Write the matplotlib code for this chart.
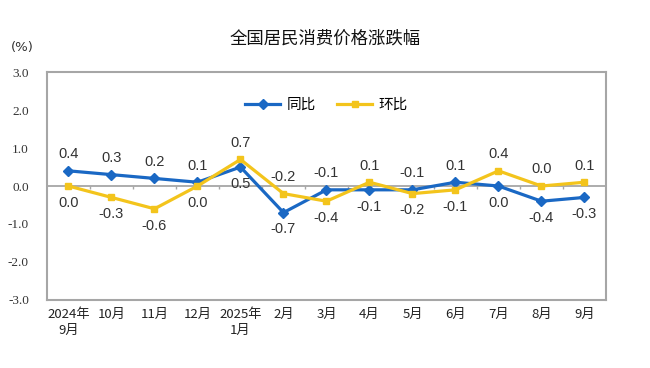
import numpy as np
import matplotlib.pyplot as plt

plt.rcParams['font.family'] = ['DejaVu Sans', 'Noto Sans CJK SC']

months = ['2024年\n9月', '10月', '11月', '12月', '2025年\n1月', '2月', '3月',
          '4月', '5月', '6月', '7月', '8月', '9月']
yoy = [0.4, 0.3, 0.2, 0.1, 0.5, -0.7, -0.1, -0.1, -0.1, 0.1, 0.0, -0.4, -0.3]   # 同比
mom = [0.0, -0.3, -0.6, 0.0, 0.7, -0.2, -0.4, 0.1, -0.2, -0.1, 0.4, 0.0, 0.1]  # 环比

blue = '#1A68C4'
yellow = '#F3C41C'
grey = '#A6A6A6'

fig = plt.figure(figsize=(6.5, 3.68), dpi=100)
ax = fig.add_axes([0.0723, 0.185, 0.8600, 0.619])

x = np.arange(len(months))
ax.plot(x, yoy, color=blue, lw=2.3, marker='D', ms=5, label='同比', zorder=3)
ax.plot(x, mom, color=yellow, lw=2.3, marker='s', ms=5, label='环比', zorder=4)

# 数据标签：较大的值在上，较小的在下
for i in x:
    if yoy[i] >= mom[i]:
        hi_v, lo_v = yoy[i], mom[i]
    else:
        hi_v, lo_v = mom[i], yoy[i]
    ax.annotate(f'{hi_v:.1f}', (i, hi_v), xytext=(0, 7), textcoords='offset points',
                ha='center', va='bottom', fontsize=10.5, color='#333333',
                fontfamily=['Liberation Sans', 'DejaVu Sans'])
    ax.annotate(f'{lo_v:.1f}', (i, lo_v), xytext=(0, -7), textcoords='offset points',
                ha='center', va='top', fontsize=10.5, color='#333333',
                fontfamily=['Liberation Sans', 'DejaVu Sans'])

ax.set_xlim(-0.5, len(months) - 0.5)
ax.set_ylim(-3, 3)
ax.set_yticks(np.arange(-3, 3.1, 1))
ax.set_yticklabels([f'{v:.1f}' for v in np.arange(-3, 3.1, 1)], fontsize=9.5, color='#333333',
                   fontfamily=['Liberation Serif', 'DejaVu Serif'])
ax.set_xticks(x)
ax.set_xticklabels(months, fontsize=9.5, color='#222222', linespacing=1.25,
                   fontfamily=['Noto Sans CJK SC', 'DejaVu Sans'])
ax.tick_params(axis='y', length=0, pad=13)
ax.tick_params(axis='x', length=0, pad=6)

for s in ax.spines.values():
    s.set_color(grey)
    s.set_linewidth(1.5)

# 零轴和分类刻度
ax.axhline(0, color=grey, lw=1.3, zorder=1)
ax.vlines(np.arange(0.5, len(months) - 1, 1), -0.09, 0, color=grey, lw=1, zorder=1)

ax.legend(loc='center', bbox_to_anchor=(0.5, 0.855), ncol=2, frameon=False,
          prop={'family': ['Noto Sans CJK SC'], 'size': 10.5}, handlelength=2.4,
          columnspacing=1.5, handletextpad=0.4)

fig.text(0.5, 0.895, '全国居民消费价格涨跌幅', ha='center', va='center', fontsize=12.5,
         fontfamily=['Noto Sans CJK SC'], color='#111111')
fig.text(0.034, 0.872, '(%)', ha='center', va='center', fontsize=9.5, color='#333333')

fig.savefig('out.png', dpi=100)
